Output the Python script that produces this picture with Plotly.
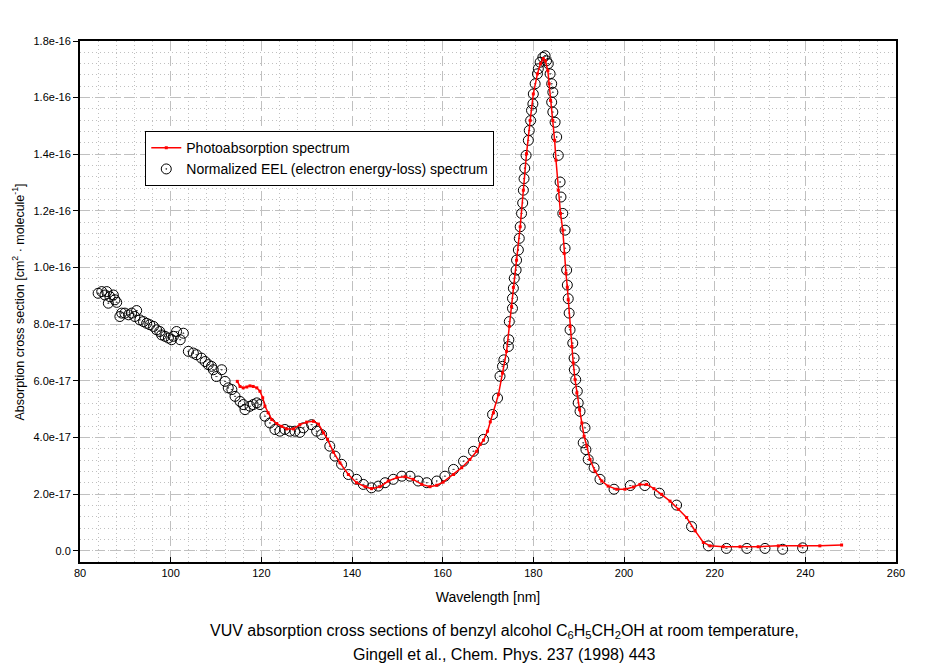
import plotly.graph_objects as go

# Photoabsorption spectrum (wavelength in nm, cross section in 1e-17 cm^2)
photo_nm = [114.7, 115.3, 116.0, 116.8, 117.5, 118.2, 119.0, 119.7, 120.3, 120.8,
            121.5, 122.3, 123.4, 124.5, 125.6, 127.1, 128.5, 130.0, 131.5, 132.6,
            133.7, 134.6, 135.9, 137.35, 139.2, 141.0, 142.9, 144.3, 146.2, 148.0,
            149.9, 151.7, 153.5, 155.4, 157.2, 158.7, 160.1, 162.4, 164.2, 166.0,
            167.5, 168.3, 169.0, 169.9, 170.5, 171.2, 172.3, 173.2, 174.1, 174.7,
            175.2, 175.6, 176.3, 177.1, 177.8, 178.5, 179.3, 180.0, 180.9, 181.6,
            182.2, 182.65, 183.2, 183.5, 183.8, 184.3, 184.7, 185.0, 185.5, 186.0,
            186.5, 186.8, 187.2, 187.5, 187.7, 188.1, 188.5, 188.8, 189.2, 189.6,
            190.2, 190.7, 191.2, 191.8, 192.5, 193.6, 195.1, 196.5, 198.4, 200.2,
            202.1, 203.5, 205.0, 206.6, 208.3, 210.15, 212.0, 213.8, 215.7, 217.5,
            219.0, 221.9, 225.6, 229.6, 234.05, 238.8, 243.2, 248.0]
photo_val = [5.98, 5.80, 5.75, 5.78, 5.82, 5.80, 5.75, 5.63, 5.40, 5.10,
             4.87, 4.63, 4.49, 4.39, 4.30, 4.30, 4.45, 4.54, 4.57, 4.47,
             4.16, 3.93, 3.48, 3.10, 2.69, 2.40, 2.26, 2.19, 2.26, 2.46,
             2.58, 2.61, 2.52, 2.34, 2.26, 2.31, 2.42, 2.69, 2.93, 3.22,
             3.51, 3.75, 3.90, 4.22, 4.55, 4.87, 5.51, 6.27, 7.04, 7.92,
             8.62, 9.30, 10.26, 11.44, 12.73, 14.02, 15.19, 16.13, 16.84, 17.20,
             17.38, 17.30, 16.95, 16.49, 15.90, 15.19, 14.49, 13.79, 12.73, 11.91,
             11.32, 10.50, 9.80, 9.30, 8.86, 7.92, 7.21, 6.63, 6.04, 5.57,
             4.98, 4.51, 4.04, 3.69, 3.22, 2.81, 2.46, 2.28, 2.17, 2.17,
             2.25, 2.34, 2.34, 2.19, 1.99, 1.75, 1.46, 1.17, 0.70, 0.29,
             0.17, 0.14, 0.14, 0.14, 0.17, 0.17, 0.17, 0.20]

# Normalized EEL spectrum (wavelength in nm, cross section in 1e-17 cm^2)
eel_nm = [84.0, 84.8, 85.5, 85.9, 86.25, 86.6, 87.35, 87.7, 88.1, 88.8,
          89.2, 89.9, 90.7, 91.4, 92.1, 92.5, 93.2, 94.0, 94.7, 95.4,
          96.2, 96.9, 97.6, 98.0, 98.75, 99.5, 100.2, 100.6, 101.3, 102.1,
          102.8, 103.9, 105.0, 105.7, 106.8, 107.6, 108.3, 109.0, 109.4, 110.1,
          111.25, 112.0, 112.7, 113.5, 114.2, 115.3, 116.0, 116.4, 117.5, 118.2,
          119.0, 119.7, 120.8, 121.9, 123.0, 124.1, 125.2, 126.3, 127.4, 128.5,
          129.3, 131.1, 132.2, 133.3, 135.1, 136.25, 137.7, 139.2, 141.0, 142.5,
          144.3, 145.8, 147.3, 149.1, 151.0, 152.8, 154.6, 156.5, 158.7, 160.5,
          162.4, 164.6, 166.8, 169.0, 171.0, 172.1, 172.65, 173.2, 173.5, 174.5,
          174.6, 174.7, 175.4, 175.4, 175.6, 175.8, 176.2, 176.3, 176.7, 176.9,
          177.1, 177.4, 177.65, 177.8, 177.95, 178.1, 178.4, 178.9, 179.1, 179.4,
          179.6, 179.9, 180.0, 180.4, 180.9, 181.1, 181.5, 182.1, 182.6, 182.9,
          183.3, 183.7, 184.05, 184.3, 184.05, 184.3, 184.8, 185.15, 185.5, 185.9,
          186.1, 186.5, 187.0, 187.0, 187.35, 187.5, 187.7, 187.9, 188.1, 188.7,
          189.0, 189.05, 189.35, 189.7, 189.9, 190.3, 191.4, 191.0, 191.6, 192.1,
          193.4, 194.7, 197.8, 201.4, 204.6, 207.8, 211.6, 214.9, 218.6, 222.6,
          227.1, 231.1, 235.0, 239.4]
eel_val = [9.09, 9.15, 9.03, 9.15, 8.74, 8.97, 9.03, 8.86, 8.77, 8.27,
           8.39, 8.39, 8.33, 8.39, 8.27, 8.48, 8.15, 8.09, 8.03, 7.98,
           7.92, 7.80, 7.74, 7.62, 7.57, 7.51, 7.45, 7.57, 7.74, 7.45,
           7.68, 7.04, 6.98, 6.92, 6.80, 6.68, 6.57, 6.51, 6.39, 6.15,
           6.39, 5.98, 5.75, 5.69, 5.45, 5.27, 5.16, 4.98, 5.10, 5.16,
           5.22, 5.16, 4.75, 4.51, 4.28, 4.22, 4.28, 4.22, 4.22, 4.18,
           4.34, 4.45, 4.22, 4.10, 3.69, 3.34, 3.05, 2.69, 2.52, 2.34,
           2.22, 2.28, 2.40, 2.52, 2.63, 2.63, 2.46, 2.40, 2.46, 2.63,
           2.87, 3.16, 3.51, 3.93, 4.81, 5.39, 6.16, 6.51, 6.74, 7.21,
           7.45, 8.09, 8.56, 8.91, 9.27, 9.62, 9.91, 10.26, 10.62, 11.03,
           11.44, 11.91, 12.28, 12.73, 13.14, 13.51, 13.96, 14.49, 14.84, 15.19,
           15.55, 15.78, 16.13, 16.49, 16.84, 17.02, 17.25, 17.42, 17.48, 17.30,
           17.20, 16.84, 16.49, 16.19, 15.84, 15.49, 15.13, 14.61, 13.96, 13.02,
           12.49, 11.91, 11.32, 10.68, 9.91, 9.38, 8.90, 8.39, 7.80, 7.33,
           6.80, 6.39, 6.04, 5.63, 5.22, 4.92, 4.34, 3.81, 3.57, 3.22,
           2.93, 2.52, 2.17, 2.30, 2.30, 2.03, 1.61, 0.85, 0.17, 0.08,
           0.08, 0.08, 0.05, 0.10]

ytick_vals = [0, 2e-17, 4e-17, 6e-17, 8e-17, 1e-16, 1.2e-16, 1.4e-16, 1.6e-16, 1.8e-16]
ytick_text = ["0.0", "2.0e-17", "4.0e-17", "6.0e-17", "8.0e-17",
              "1.0e-16", "1.2e-16", "1.4e-16", "1.6e-16", "1.8e-16"]

FONT = "Liberation Sans, Arial, sans-serif"
GRID = "#c0c0c0"

fig = go.Figure()

fig.add_trace(go.Scatter(
    x=eel_nm, y=[v * 1e-17 for v in eel_val],
    mode="markers",
    name="Normalized EEL (electron energy-loss) spectrum",
    marker=dict(symbol="circle-open-dot", size=10, color="black",
                line=dict(width=1, color="black"))
))

fig.add_trace(go.Scatter(
    x=photo_nm, y=[v * 1e-17 for v in photo_val],
    mode="lines+markers",
    name="Photoabsorption spectrum",
    line=dict(color="#ff0000", width=1.5),
    marker=dict(symbol="square", size=3, color="#ff0000")
))

fig.update_xaxes(
    range=[80, 260], tickmode="linear", tick0=80, dtick=20,
    showline=True, linecolor="black", linewidth=2, mirror=True,
    ticks="inside", ticklen=5, tickcolor="black",
    showgrid=True, gridcolor=GRID, gridwidth=1, griddash="10px,5px",
    zeroline=False, tickfont=dict(size=11, color="black"),
    title=dict(text="Wavelength [nm]", font=dict(size=14), standoff=14),
    minor=dict(tickmode="linear", tick0=80, dtick=4, showgrid=True,
               gridcolor=GRID, gridwidth=1, griddash="1px,3px")
)

fig.update_yaxes(
    range=[-4e-18, 1.8e-16], tickmode="array",
    tickvals=ytick_vals, ticktext=ytick_text,
    showline=True, linecolor="black", linewidth=2, mirror=True,
    ticks="outside", ticklen=5, tickcolor="black",
    showgrid=True, gridcolor=GRID, gridwidth=1, griddash="10px,5px",
    zeroline=False, tickfont=dict(size=11, color="black"),
    minor=dict(tickmode="linear", tick0=0, dtick=4e-18, showgrid=True,
               gridcolor=GRID, gridwidth=1, griddash="1px,3px")
)

# the page adds an 8px body margin, so the figure is 8px smaller and shifted
fig.update_layout(
    width=928, height=660,
    margin=dict(l=72, r=40, t=33, b=106, autoexpand=False),
    paper_bgcolor="white", plot_bgcolor="white",
    font=dict(family=FONT, size=12, color="black"),
    showlegend=True,
    legend=dict(x=0.08, y=0.827, xanchor="left", yanchor="top",
                bgcolor="white", bordercolor="black", borderwidth=1,
                traceorder="reversed", font=dict(size=14)),
    annotations=[
        dict(text="Absorption cross section [cm<sup>2</sup> · molecule<sup>-1</sup>]",
             xref="paper", yref="paper", x=-0.076, y=0.5, textangle=-90,
             showarrow=False, xanchor="center", yanchor="middle",
             font=dict(size=12.5)),
        dict(text="VUV absorption cross sections of benzyl alcohol "
                  "C<sub>6</sub>H<sub>5</sub>CH<sub>2</sub>OH at room temperature,",
             xref="paper", yref="paper", x=0.52, y=-0.134, showarrow=False,
             xanchor="center", yanchor="middle", font=dict(size=16)),
        dict(text="Gingell et al., Chem. Phys. 237 (1998) 443",
             xref="paper", yref="paper", x=0.52, y=-0.1785, showarrow=False,
             xanchor="center", yanchor="middle", font=dict(size=16)),
    ]
)

fig.write_html("out.html")
